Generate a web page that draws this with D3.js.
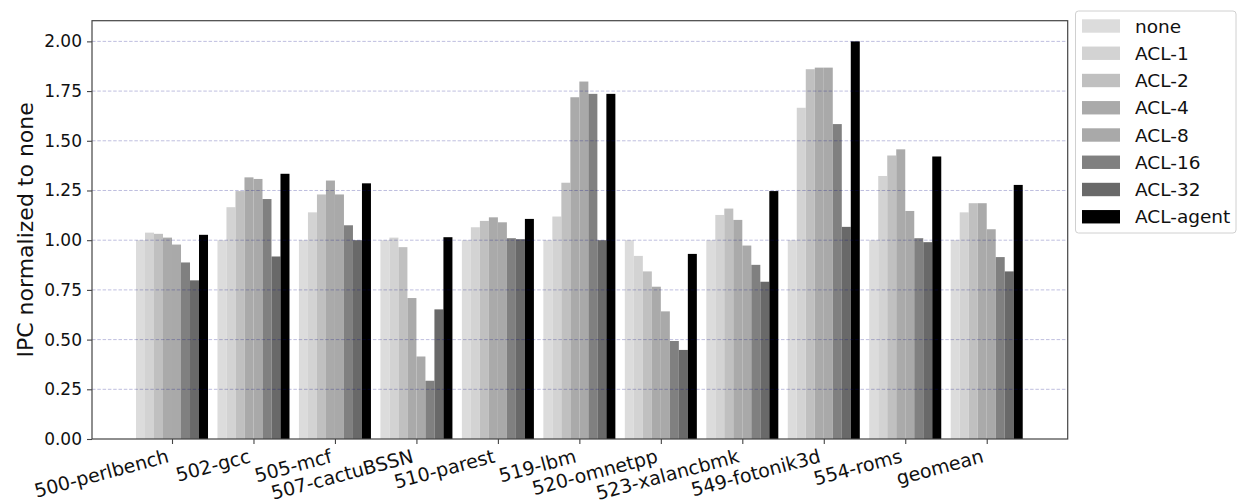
<!DOCTYPE html>
<html>
<head>
<meta charset="utf-8">
<script src="https://cdn.jsdelivr.net/npm/d3@7"></script>
<style>
  html, body { margin: 0; padding: 0; background: #fff; }
  svg { display: block; font-family: "DejaVu Sans", sans-serif; }
</style>
</head>
<body>
<svg id="chart" width="1238" height="502"></svg>
<script>
// ---- data ----
const categories = ["500-perlbench", "502-gcc", "505-mcf", "507-cactuBSSN", "510-parest",
  "519-lbm", "520-omnetpp", "523-xalancbmk", "549-fotonik3d", "554-roms", "geomean"];
const seriesNames = ["none", "ACL-1", "ACL-2", "ACL-4", "ACL-8", "ACL-16", "ACL-32", "ACL-agent"];
const seriesColors = ["#dcdcdc", "#d3d3d3", "#c0c0c0", "#aaaaaa", "#a9a9a9", "#808080", "#696969", "#000000"];

const valsNone  = [1.00, 1.00, 1.00, 1.00, 1.00, 1.00, 1.00, 1.00, 1.00, 1.00, 1.00];
const valsACL1  = [1.038, 1.166, 1.14, 1.013, 1.065, 1.119, 0.921, 1.127, 1.666, 1.323, 1.14];
const valsACL2  = [1.032, 1.247, 1.23, 0.965, 1.097, 1.289, 0.843, 1.159, 1.86, 1.426, 1.186];
const valsACL4  = [1.013, 1.316, 1.30, 0.709, 1.115, 1.719, 0.766, 1.102, 1.868, 1.457, 1.186];
const valsACL8  = [0.978, 1.308, 1.23, 0.415, 1.09, 1.798, 0.642, 0.973, 1.868, 1.147, 1.055];
const valsACL16 = [0.888, 1.207, 1.075, 0.293, 1.01, 1.736, 0.493, 0.876, 1.584, 1.01, 0.915];
const valsACL32 = [0.798, 0.918, 1.00, 0.652, 1.005, 1.00, 0.448, 0.791, 1.067, 0.99, 0.843];
const valsAgent = [1.027, 1.334, 1.286, 1.015, 1.107, 1.736, 0.931, 1.247, 2.00, 1.421, 1.278];
const seriesValues = [valsNone, valsACL1, valsACL2, valsACL4, valsACL8, valsACL16, valsACL32, valsAgent];

const yTicks = [0, 0.25, 0.5, 0.75, 1.0, 1.25, 1.5, 1.75, 2.0];
const yLabel = "IPC normalized to none";

// ---- layout ----
const plot = { left: 92, right: 1067.7, top: 20.7, bottom: 439 };
const svg = d3.select("#chart");

const x = d3.scaleLinear().domain([-0.982, 10.994]).range([plot.left, plot.right]);
const y = d3.scaleLinear().domain([0, 2.104]).range([plot.bottom, plot.top]);
const barW = 0.1105;

// bars
seriesValues.forEach((vals, si) => {
  svg.append("g").selectAll("rect")
    .data(vals)
    .join("rect")
    .attr("x", (d, i) => x(i + (si - 4) * barW))
    .attr("width", x(barW) - x(0))
    .attr("y", d => y(d))
    .attr("height", d => y(0) - y(d))
    .attr("fill", seriesColors[si]);
});

// grid (drawn on top of bars)
svg.append("g").selectAll("line")
  .data(yTicks.filter(t => t > 0))
  .join("line")
  .attr("x1", plot.left).attr("x2", plot.right)
  .attr("y1", d => y(d)).attr("y2", d => y(d))
  .attr("stroke", "#000080")
  .attr("stroke-opacity", 0.32)
  .attr("stroke-width", 0.8)
  .attr("stroke-dasharray", "3.5,1.8");

// y axis
const yAxis = d3.axisLeft(y).tickValues(yTicks).tickFormat(d3.format(".2f")).tickSize(5).tickPadding(5);
const gy = svg.append("g").attr("transform", `translate(${plot.left},0)`).call(yAxis);
gy.select(".domain").remove();
gy.selectAll("line").attr("stroke", "#444").attr("stroke-width", 1.1);
gy.selectAll("text").attr("font-size", 17).attr("fill", "#111").attr("font-family", "DejaVu Sans");

// x axis
const xAxis = d3.axisBottom(x).tickValues(d3.range(categories.length)).tickFormat(() => "").tickSize(5);
const gx = svg.append("g").attr("transform", `translate(0,${plot.bottom})`).call(xAxis);
gx.select(".domain").remove();
gx.selectAll("line").attr("stroke", "#444").attr("stroke-width", 1.1);

svg.append("g").selectAll("text")
  .data(categories)
  .join("text")
  .attr("transform", (d, i) => `translate(${x(i) - 2},${plot.bottom + 23}) rotate(-15)`)
  .attr("text-anchor", "end")
  .attr("font-size", 19)
  .attr("fill", "#111")
  .text(d => d);

// frame
svg.append("rect")
  .attr("x", plot.left).attr("y", plot.top)
  .attr("width", plot.right - plot.left).attr("height", plot.bottom - plot.top)
  .attr("fill", "none").attr("stroke", "#444").attr("stroke-width", 1.2);

// y label
svg.append("text")
  .attr("transform", `translate(33,${(plot.top + plot.bottom) / 2}) rotate(-90)`)
  .attr("text-anchor", "middle")
  .attr("font-size", 22)
  .attr("fill", "#111")
  .text(yLabel);

// legend
const lg = svg.append("g");
lg.append("rect")
  .attr("x", 1075.5).attr("y", 11).attr("width", 160.5).attr("height", 222)
  .attr("rx", 3).attr("fill", "#fff").attr("stroke", "#d0d0d0").attr("stroke-width", 1);
const items = lg.selectAll("g.item").data(seriesNames).join("g")
  .attr("transform", (d, i) => `translate(1082,${26 + i * 27.25})`);
items.append("rect").attr("x", 0).attr("y", -6.7).attr("width", 38).attr("height", 13.4)
  .attr("fill", (d, i) => seriesColors[i]);
items.append("text").attr("x", 53).attr("y", 0).attr("dy", "0.36em")
  .attr("font-size", 18.5).attr("fill", "#111").text(d => d);
</script>
</body>
</html>
